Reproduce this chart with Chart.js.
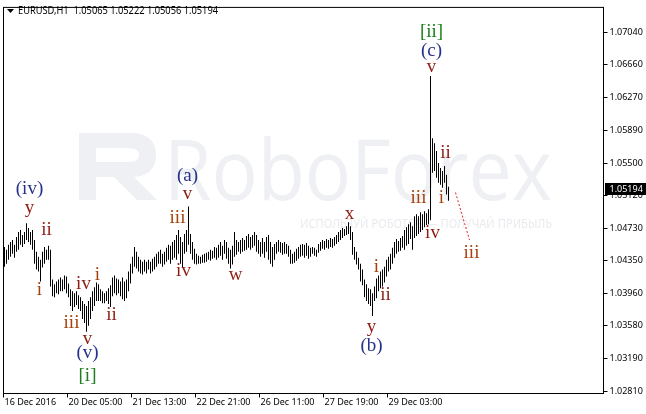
<!DOCTYPE html>
<html>
<head>
<meta charset="utf-8">
<style>
html,body{margin:0;padding:0;background:#fff;}
canvas{display:block;}
</style>
<script src="https://cdn.jsdelivr.net/npm/chart.js"></script>
</head>
<body>
<canvas id="c" width="646" height="414"></canvas>
<script>
// ---- data (EURUSD H1 bars: highs / lows) ----
const barHigh = [
1.04511,1.04476,1.04535,1.04570,1.04593,1.04535,1.04628,1.04686,1.04709,1.04651,
1.04686,1.04791,1.04733,1.04686,1.04709,1.04593,1.04453,1.04395,1.04360,1.04453,
1.04511,1.04476,1.04523,1.04476,1.04127,1.04069,1.04104,1.04127,1.04150,1.04127,
1.04174,1.04162,1.04080,1.04010,1.03987,1.03964,1.03987,1.03941,1.03917,1.03871,
1.03836,1.03812,1.03871,1.03917,1.03987,1.04034,1.04092,1.04069,1.04010,1.03987,
1.03964,1.03987,1.04022,1.04057,1.04150,1.04174,1.04139,1.04127,1.04104,1.04150,
1.04104,1.04127,1.04220,1.04313,1.04395,1.04511,1.04453,1.04395,1.04360,1.04337,
1.04360,1.04337,1.04360,1.04337,1.04372,1.04395,1.04430,1.04453,1.04476,1.04430,
1.04453,1.04500,1.04535,1.04523,1.04570,1.04593,1.04651,1.04709,1.04628,1.04570,
1.04663,1.04709,1.04989,1.04663,1.04570,1.04488,1.04430,1.04406,1.04395,1.04418,
1.04430,1.04441,1.04453,1.04476,1.04465,1.04511,1.04500,1.04535,1.04570,1.04523,
1.04593,1.04570,1.04500,1.04476,1.04523,1.04686,1.04593,1.04570,1.04593,1.04616,
1.04593,1.04639,1.04663,1.04628,1.04651,1.04686,1.04651,1.04593,1.04570,1.04616,
1.04570,1.04628,1.04651,1.04570,1.04511,1.04546,1.04570,1.04593,1.04570,1.04558,
1.04570,1.04546,1.04523,1.04476,1.04430,1.04453,1.04488,1.04511,1.04535,1.04546,
1.04535,1.04558,1.04523,1.04500,1.04511,1.04500,1.04476,1.04546,1.04570,1.04593,
1.04581,1.04605,1.04593,1.04616,1.04605,1.04628,1.04651,1.04686,1.04709,1.04733,
1.04721,1.04756,1.04803,1.04756,1.04686,1.04511,1.04453,1.04383,1.04313,1.04243,
1.04127,1.04069,1.04022,1.04010,1.03964,1.04045,1.04139,1.04174,1.04220,1.04243,
1.04278,1.04360,1.04395,1.04430,1.04500,1.04570,1.04605,1.04581,1.04616,1.04639,
1.04709,1.04744,1.04779,1.04803,1.04756,1.04872,1.04896,1.04872,1.04919,1.04896,
1.04931,1.04907,1.04954,1.06527,1.05793,1.05735,1.05642,1.05502,1.05443,1.05408,
1.05467,1.05362,1.05222
];
const barLow = [
1.04278,1.04313,1.04360,1.04395,1.04430,1.04383,1.04453,1.04476,1.04535,1.04511,
1.04546,1.04593,1.04570,1.04535,1.04476,1.04313,1.04243,1.04220,1.04104,1.04267,
1.04313,1.04360,1.04360,1.04045,1.03929,1.03917,1.03964,1.03952,1.03987,1.03987,
1.04010,1.03964,1.03917,1.03812,1.03754,1.03801,1.03824,1.03778,1.03754,1.03661,
1.03614,1.03510,1.03580,1.03661,1.03754,1.03812,1.03871,1.03871,1.03871,1.03847,
1.03847,1.03871,1.03836,1.03801,1.03929,1.03964,1.03941,1.03964,1.03929,1.03894,
1.03871,1.03906,1.03987,1.04080,1.04197,1.04278,1.04255,1.04220,1.04197,1.04185,
1.04220,1.04197,1.04243,1.04197,1.04220,1.04243,1.04278,1.04313,1.04313,1.04278,
1.04302,1.04337,1.04360,1.04313,1.04360,1.04383,1.04360,1.04430,1.04313,1.04267,
1.04430,1.04453,1.04535,1.04430,1.04360,1.04313,1.04302,1.04313,1.04313,1.04325,
1.04325,1.04337,1.04360,1.04348,1.04372,1.04383,1.04360,1.04383,1.04406,1.04360,
1.04430,1.04372,1.04313,1.04255,1.04302,1.04395,1.04418,1.04453,1.04430,1.04453,
1.04465,1.04476,1.04500,1.04476,1.04500,1.04523,1.04453,1.04430,1.04395,1.04430,
1.04383,1.04453,1.04360,1.04313,1.04278,1.04360,1.04430,1.04453,1.04441,1.04418,
1.04430,1.04430,1.04395,1.04313,1.04313,1.04325,1.04348,1.04372,1.04395,1.04406,
1.04383,1.04406,1.04372,1.04395,1.04430,1.04406,1.04395,1.04441,1.04465,1.04488,
1.04476,1.04500,1.04488,1.04511,1.04500,1.04523,1.04546,1.04570,1.04593,1.04616,
1.04639,1.04651,1.04663,1.04593,1.04418,1.04360,1.04302,1.04243,1.04104,1.04057,
1.03917,1.03871,1.03836,1.03812,1.03696,1.03871,1.03906,1.03987,1.04022,1.04045,
1.04092,1.04162,1.04220,1.04243,1.04313,1.04383,1.04430,1.04453,1.04465,1.04500,
1.04476,1.04523,1.04546,1.04605,1.04476,1.04616,1.04639,1.04663,1.04686,1.04709,
1.04744,1.04768,1.04779,1.04826,1.05385,1.05408,1.05327,1.05269,1.05245,1.05210,
1.05269,1.05129,1.05056
];
const lastOHLC = [1.05065, 1.05222, 1.05056, 1.05194];
const yTicks = [1.0281, 1.0319, 1.0358, 1.0396, 1.0435, 1.0473, 1.0512, 1.0550, 1.0589, 1.0627, 1.0666, 1.0704];
const xTickIndex = [0, 32, 64, 96, 128, 160, 192];
const xTickText = ['16 Dec 2016', '20 Dec 05:00', '21 Dec 13:00', '22 Dec 21:00', '26 Dec 11:00', '27 Dec 19:00', '29 Dec 03:00'];
const slotCount = 300;

// Elliott wave labels: text, bar index, price, kind
const waveText  = ['(iv)','y','ii','i','iii','iv','i','ii','v','(v)','[i]','(a)','v','iii','iv','w','x','i','ii','y','(b)','iii','i','iv','ii','[ii]','(c)','v','iii'];
const waveIdx   = [12.5,12.5,21,17.5,33.5,39.5,46.5,53.5,41.5,41.5,41.5,91.5,91.5,86.5,89.5,115.5,172.5,186,190.5,183.5,183.5,207,218.5,214,220.5,213.5,213.5,213.5,233.5];
const wavePrice = [1.05176,1.04942,1.04686,1.03976,1.03591,1.04045,1.04150,1.03684,1.03405,1.03230,1.02962,1.05327,1.05117,1.04826,1.04208,1.04150,1.04872,1.04255,1.03917,1.03545,1.03312,1.05060,1.05060,1.04651,1.05595,1.07028,1.06795,1.06609,1.04418];
const waveKind  = ['b','r','r','o','o','r','o','r','r','b','g','b','r','o','r','r','r','o','r','r','b','o','o','r','r','g','b','r','o'];
const projIdx   = [225.5, 232.5];
const projPrice = [1.05152, 1.04593];

const categories = [];
for (let i = 0; i < slotCount; i++) categories.push(i);

const kindColor = {b:'#25318a', r:'#8e1b12', o:'#a5420c', g:'#1b7f1b'};
const UI_FONT = '"Noto Sans", "DejaVu Sans", sans-serif';

const decor = {
  id: 'decor',
  beforeDatasetsDraw(chart) {
    const ctx = chart.ctx;
    ctx.save();
    // watermark logo
    ctx.fillStyle = '#eef0f3';
    ctx.fillRect(79, 133, 17, 67);
    ctx.beginPath();
    ctx.moveTo(96,133); ctx.lineTo(130,133);
    ctx.quadraticCurveTo(156,133,156,155);
    ctx.quadraticCurveTo(156,177,130,177);
    ctx.lineTo(96,177); ctx.closePath();
    ctx.moveTo(96,148); ctx.lineTo(128,148);
    ctx.quadraticCurveTo(139,148,139,155);
    ctx.quadraticCurveTo(139,162,128,162);
    ctx.lineTo(96,162); ctx.closePath();
    ctx.fill('evenodd');
    ctx.beginPath();
    ctx.moveTo(114,177); ctx.lineTo(134,177); ctx.lineTo(157,200); ctx.lineTo(137,200); ctx.closePath();
    ctx.fill();
    // watermark text
    ctx.font = '500 84px "Open Sans", "Noto Sans", sans-serif';
    ctx.textBaseline = 'alphabetic';
    ctx.textAlign = 'left';
    let w = ctx.measureText('RoboForex').width;
    ctx.save();
    ctx.translate(164, 200);
    ctx.scale(388 / w, 1);
    ctx.fillText('RoboForex', 0, 0);
    ctx.restore();
    ctx.fillStyle = '#e9ebef';
    ctx.font = '12px "Noto Sans", sans-serif';
    const slogan = 'ИСПОЛЬЗУЙ РОБОТОВ — ПОЛУЧАЙ ПРИБЫЛЬ';
    w = ctx.measureText(slogan).width;
    ctx.save();
    ctx.translate(300, 228);
    ctx.scale(252 / w, 1);
    ctx.fillText(slogan, 0, 0);
    ctx.restore();
    ctx.restore();
  },
  afterDatasetsDraw(chart) {
    const ctx = chart.ctx;
    const xs = chart.scales.x, ys = chart.scales.y;
    ctx.save();
    // projection dotted line
    ctx.strokeStyle = '#e02020';
    ctx.lineWidth = 1;
    ctx.setLineDash([2, 2]);
    ctx.beginPath();
    ctx.moveTo(xs.getPixelForValue(projIdx[0]), ys.getPixelForValue(projPrice[0]));
    ctx.lineTo(xs.getPixelForValue(projIdx[1]), ys.getPixelForValue(projPrice[1]));
    ctx.stroke();
    ctx.setLineDash([]);
    // wave labels
    ctx.font = '19px "Liberation Serif", "Times New Roman", serif';
    ctx.textAlign = 'center';
    ctx.textBaseline = 'alphabetic';
    for (let i = 0; i < waveText.length; i++) {
      ctx.fillStyle = kindColor[waveKind[i]];
      ctx.fillText(waveText[i], xs.getPixelForValue(waveIdx[i]), ys.getPixelForValue(wavePrice[i]) + 3);
    }
    ctx.restore();
  },
  afterDraw(chart) {
    const ctx = chart.ctx;
    const a = chart.chartArea;
    const ys = chart.scales.y;
    ctx.save();
    // frame
    ctx.strokeStyle = '#000';
    ctx.lineWidth = 1;
    ctx.strokeRect(a.left, a.top, a.right - a.left, a.bottom - a.top);
    // header
    ctx.fillStyle = '#000';
    ctx.beginPath();
    ctx.moveTo(7, 9); ctx.lineTo(14, 9); ctx.lineTo(10.5, 13); ctx.closePath();
    ctx.fill();
    ctx.font = '10px ' + UI_FONT;
    ctx.textBaseline = 'middle';
    ctx.textAlign = 'left';
    const head = 'EURUSD,H1  ' + lastOHLC.map(v => v.toFixed(5)).join(' ');
    const hw = ctx.measureText(head).width;
    ctx.save();
    ctx.translate(18, 11);
    ctx.scale(200 / hw, 1);
    ctx.fillText(head, 0, 0);
    ctx.restore();
    // current price box
    const py = Math.round(ys.getPixelForValue(lastOHLC[3]));
    ctx.fillStyle = '#000';
    ctx.fillRect(605, py - 6, 41, 12);
    ctx.fillStyle = '#fff';
    ctx.font = '9px ' + UI_FONT;
    ctx.fillText(lastOHLC[3].toFixed(5), 609.5, py + 0.5);
    ctx.restore();
  }
};

new Chart(document.getElementById('c'), {
  type: 'bar',
  data: {
    labels: categories,
    datasets: [{
      data: barLow.map((l, i) => [l, barHigh[i]]),
      backgroundColor: '#000',
      borderWidth: 0,
      inflateAmount: 0,
      barThickness: 1
    }]
  },
  options: {
    responsive: false,
    devicePixelRatio: 1,
    animation: false,
    events: [],
    layout: { padding: { left: 3.5, top: 2.5, right: 0, bottom: 0 } },
    plugins: { legend: { display: false }, tooltip: { enabled: false }, title: { display: false } },
    scales: {
      x: {
        type: 'category',
        offset: true,
        grid: {
          offset: true,
          drawOnChartArea: false,
          tickLength: 4,
          color: ctx => (xTickIndex.indexOf(ctx.index) >= 0 ? '#000' : 'rgba(0,0,0,0)')
        },
        border: { color: '#000' },
        ticks: {
          autoSkip: false,
          maxRotation: 0,
          minRotation: 0,
          align: 'start',
          padding: 0,
          color: '#000',
          font: { family: UI_FONT, size: 9 },
          callback: (v, i) => { const k = xTickIndex.indexOf(i); return k >= 0 ? xTickText[k] : ''; }
        },
        afterFit: s => { s.height = 20.5; }
      },
      y: {
        type: 'linear',
        position: 'right',
        min: 1.0278085,
        max: 1.0733715,
        afterBuildTicks: s => { s.ticks = yTicks.map(v => ({ value: v })); },
        grid: { drawOnChartArea: false, tickLength: 4, color: '#000' },
        border: { color: '#000' },
        ticks: {
          padding: 2,
          color: '#000',
          font: { family: UI_FONT, size: 9 },
          callback: v => Number(v).toFixed(5)
        },
        afterFit: s => { s.width = 42.5; }
      }
    }
  },
  plugins: [decor]
});
</script>
</body>
</html>
